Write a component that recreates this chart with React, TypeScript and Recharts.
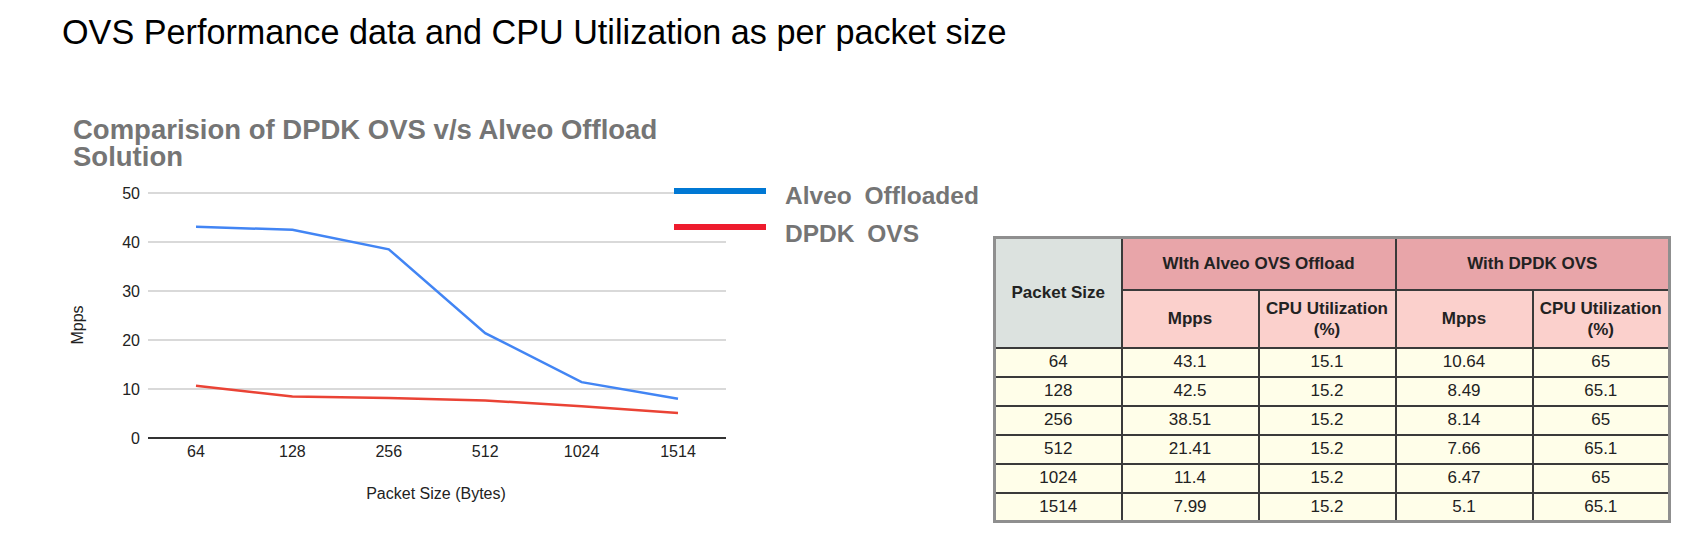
import { LineChart, Line, XAxis, YAxis, CartesianGrid } from 'recharts';

// 패킷 크기별 OVS 성능 데이터
const packetSizes = ['64', '128', '256', '512', '1024', '1514'];
const alveoMpps = [43.1, 42.5, 38.51, 21.41, 11.4, 7.99];
const alveoCpu = [15.1, 15.2, 15.2, 15.2, 15.2, 15.2];
const dpdkMpps = [10.64, 8.49, 8.14, 7.66, 6.47, 5.1];
const dpdkCpu = [65, 65.1, 65, 65.1, 65, 65.1];
const yTicks = [0, 10, 20, 30, 40, 50];

const SERIES = [
    { key: 'alveo', name: 'Alveo Offloaded', line: '#4285f4', legend: '#0078d4' },
    { key: 'dpdk', name: 'DPDK OVS', line: '#ea4335', legend: '#ee1c2e' },
];

const chartData = packetSizes.map((size, i) => ({
    size,
    alveo: alveoMpps[i],
    dpdk: dpdkMpps[i],
}));

const FONT = '"Liberation Sans", Arial, sans-serif';

const C = {
    gray: '#757575',
    grid: '#cccccc',
    border: '#3a3a3a',
    outer: '#8f8f8f',
    psHead: '#dce2df',
    topHead: '#e8a5a9',
    subHead: '#fbd0cc',
    body: '#fffee9',
};

const cell = (bg: string, extra: any = {}) => ({
    background: bg,
    border: `2px solid ${C.border}`,
    textAlign: 'center' as const,
    padding: 0,
    color: '#222',
    ...extra,
});

function DataTable() {
    return (
        <table
            style={{
                position: 'absolute', left: 993, top: 236, width: 677,
                borderCollapse: 'collapse', fontFamily: FONT, fontSize: 17,
                border: `3px solid ${C.outer}`, tableLayout: 'fixed',
            }}
        >
            <colgroup>
                <col style={{ width: 127 }} />
                <col style={{ width: 137 }} />
                <col style={{ width: 137 }} />
                <col style={{ width: 137 }} />
                <col style={{ width: 137 }} />
            </colgroup>
            <thead>
                <tr style={{ height: 52 }}>
                    <th rowSpan={2} style={cell(C.psHead)}>Packet Size</th>
                    <th colSpan={2} style={cell(C.topHead)}>WIth Alveo OVS Offload</th>
                    <th colSpan={2} style={cell(C.topHead)}>With DPDK OVS</th>
                </tr>
                <tr style={{ height: 58 }}>
                    <th style={cell(C.subHead)}>Mpps</th>
                    <th style={cell(C.subHead, { lineHeight: '21px' })}>CPU Utilization<br />(%)</th>
                    <th style={cell(C.subHead)}>Mpps</th>
                    <th style={cell(C.subHead, { lineHeight: '21px' })}>CPU Utilization<br />(%)</th>
                </tr>
            </thead>
            <tbody>
                {packetSizes.map((size, i) => (
                    <tr key={size} style={{ height: 29 }}>
                        <td style={cell(C.body)}>{size}</td>
                        <td style={cell(C.body)}>{alveoMpps[i]}</td>
                        <td style={cell(C.body)}>{alveoCpu[i]}</td>
                        <td style={cell(C.body)}>{dpdkMpps[i]}</td>
                        <td style={cell(C.body)}>{dpdkCpu[i]}</td>
                    </tr>
                ))}
            </tbody>
        </table>
    );
}

export default function App() {
    return (
        <div style={{ position: 'absolute', left: 0, top: 0, width: 1705, height: 550, background: '#fff', overflow: 'hidden', fontFamily: FONT }}>
            {/* 페이지 타이틀 */}
            <div style={{ position: 'absolute', left: 62, top: 13, fontSize: 34.2, color: '#000', whiteSpace: 'nowrap' }}>
                OVS Performance data and CPU Utilization as per packet size
            </div>

            {/* 차트 타이틀 */}
            <div style={{ position: 'absolute', left: 73, top: 116, width: 640, fontSize: 27.5, lineHeight: '27px', fontWeight: 700, color: C.gray }}>
                Comparision of DPDK OVS v/s Alveo Offload Solution
            </div>

            <div style={{ position: 'absolute', left: 0, top: 0 }}>
                <LineChart width={1000} height={550} data={chartData} margin={{ top: 193, right: 274, bottom: 82, left: 108 }}>
                    <CartesianGrid vertical={false} stroke={C.grid} strokeWidth={1.5} />
                    <XAxis
                        dataKey="size" height={30} tickLine={false} padding={{ left: 48, right: 48 }}
                        axisLine={{ stroke: '#333', strokeWidth: 2 }}
                        tick={{ fontSize: 16, fill: '#222', fontFamily: FONT }}
                    />
                    <YAxis
                        width={40} domain={[0, 50]} ticks={yTicks} axisLine={false} tickLine={false}
                        tick={{ fontSize: 16, fill: '#222', fontFamily: FONT }}
                    />
                    {SERIES.map(s => (
                        <Line
                            key={s.key} dataKey={s.key} name={s.name} type="linear"
                            stroke={s.line} strokeWidth={2.5} dot={false} isAnimationActive={false}
                        />
                    ))}
                </LineChart>
            </div>

            {/* 축 제목 */}
            <div style={{ position: 'absolute', left: 78, top: 325, transform: 'translate(-50%, -50%) rotate(-90deg)', fontSize: 16, color: '#222' }}>
                Mpps
            </div>
            <div style={{ position: 'absolute', left: 436, top: 494, transform: 'translate(-50%, -50%)', fontSize: 16, color: '#222', whiteSpace: 'nowrap' }}>
                Packet Size (Bytes)
            </div>

            {/* 범례 */}
            <div style={{ position: 'absolute', left: 674, top: 176 }}>
                {SERIES.map((s, i) => (
                    <div key={s.key} style={{ display: 'flex', alignItems: 'center', height: 36 }}>
                        <span style={{ display: 'inline-block', width: 92, height: 6, background: s.legend, marginRight: 19, marginTop: -6 }} />
                        <span style={{ fontSize: 24.5, fontWeight: 700, color: C.gray, wordSpacing: 6, whiteSpace: 'nowrap', position: 'relative', top: 2 + i * 2 }}>{s.name}</span>
                    </div>
                ))}
            </div>

            <DataTable />
        </div>
    );
}
